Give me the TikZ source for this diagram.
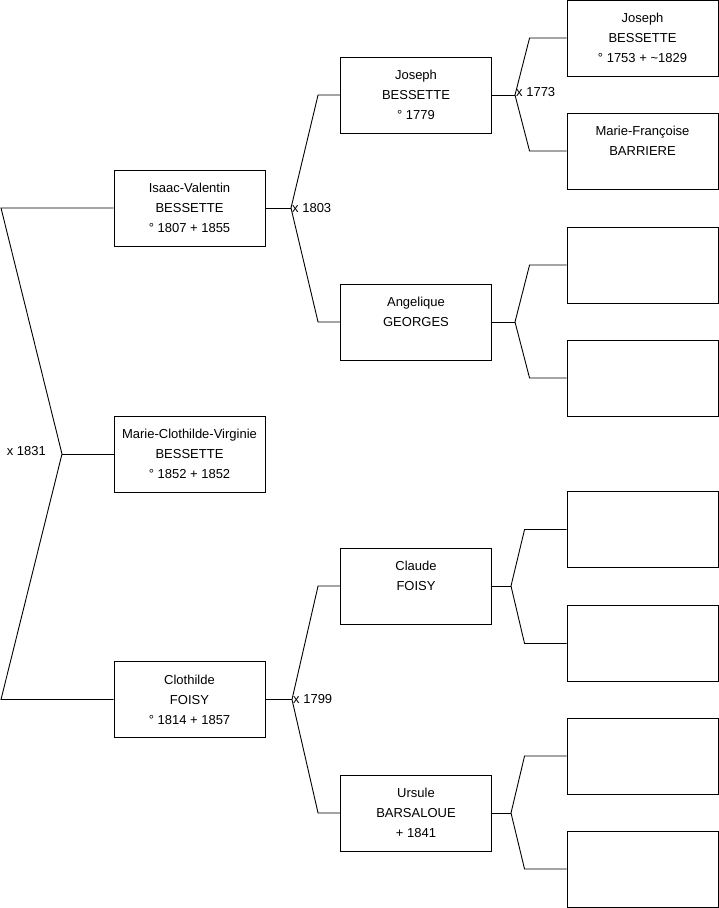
\documentclass[tikz,border=0pt]{standalone}
\usepackage{fontspec}
\setmainfont{Liberation Sans}
\usepackage{tikz}

\begin{document}
\begin{tikzpicture}[
		x=1pt, y=-1pt,
		font=\fontsize{13}{20}\selectfont,
		box/.style={draw, line width=0.9pt, align=center, inner sep=0pt, minimum width=151pt, minimum height=76pt},
		link/.style={line width=0.9pt},
		year/.style={inner sep=1pt}
		]
		\useasboundingbox (0,0) rectangle (719,908);
		
		% Nodes (couple and child)
		\node[box] (isaac) at (189.5,208) {Isaac-Valentin\\BESSETTE\\° 1807 + 1855};
		\node[box] (marieclo) at (189.5,454) {Marie-Clothilde-Virginie\\BESSETTE\\° 1852 + 1852};
		\node[box] (clothilde) at (189.5,699.5) {Clothilde\\FOISY\\° 1814 + 1857};
		
		% Nodes (parents)
		\node[box] (joseph) at (416,95) {Joseph\\BESSETTE\\° 1779};
		\node[box] (angelique) at (416,322) {Angelique\\GEORGES\\\mbox{}};
		\node[box] (claude) at (416,586) {Claude\\FOISY\\\mbox{}};
		\node[box] (ursule) at (416,813) {Ursule\\BARSALOUE\\+ 1841};
		
		% Nodes (grandparents)
		\node[box] (josephsr) at (642.5,38) {Joseph\\BESSETTE\\° 1753 + \textasciitilde1829};
		\node[box] (mariefr) at (642.5,151) {Marie-Françoise\\BARRIERE\\\mbox{}};
		\node[box] (angfather) at (642.5,265) {};
		\node[box] (angmother) at (642.5,378) {};
		\node[box] (claudefather) at (642.5,529.5) {};
		\node[box] (claudemother) at (642.5,643.5) {};
		\node[box] (ursfather) at (642.5,756) {};
		\node[box] (ursmother) at (642.5,869) {};
		
		% Junctions
		\coordinate (j0) at (62,454);
		\coordinate (j0top) at (1,208);
		\coordinate (j0bot) at (1,699.5);
		\coordinate (j1) at (291,208);
		\coordinate (j2) at (292,699.5);
		\coordinate (j3) at (515,95);
		\coordinate (j4) at (515,322);
		\coordinate (j5) at (511,586);
		\coordinate (j6) at (511,813);
		
		% Lines (child to couple)
		\draw[link] (isaac.west) -- (j0top) -- (j0) -- (j0bot) -- (clothilde.west);
		\draw[link] (j0) -- (marieclo.west);
		\node[year, anchor=east] (m1831) at ([xshift=-15pt,yshift=3pt]j0) {x 1831};
		
		% Lines (to parents)
		\draw[link] (isaac.east) -- (j1);
		\draw[link] (j1) -- ([xshift=-22pt]joseph.west) -- (joseph.west);
		\draw[link] (j1) -- ([xshift=-22pt]angelique.west) -- (angelique.west);
		\node[year, anchor=west] (m1803) at (j1) {x 1803};
		
		\draw[link] (clothilde.east) -- (j2);
		\draw[link] (j2) -- ([xshift=-22pt]claude.west) -- (claude.west);
		\draw[link] (j2) -- ([xshift=-22pt]ursule.west) -- (ursule.west);
		\node[year, anchor=west] (m1799) at (j2) {x 1799};
		
		% Lines (to grandparents)
		\draw[link] (joseph.east) -- (j3);
		\draw[link] (j3) -- ([xshift=-37pt]josephsr.west) -- (josephsr.west);
		\draw[link] (j3) -- ([xshift=-37pt]mariefr.west) -- (mariefr.west);
		\node[year, anchor=west] (m1773) at ([yshift=3pt]j3) {x 1773};
		
		\draw[link] (angelique.east) -- (j4);
		\draw[link] (j4) -- ([xshift=-37pt]angfather.west) -- (angfather.west);
		\draw[link] (j4) -- ([xshift=-37pt]angmother.west) -- (angmother.west);
		
		\draw[link] (claude.east) -- (j5);
		\draw[link] (j5) -- ([xshift=-42pt]claudefather.west) -- (claudefather.west);
		\draw[link] (j5) -- ([xshift=-42pt]claudemother.west) -- (claudemother.west);
		
		\draw[link] (ursule.east) -- (j6);
		\draw[link] (j6) -- ([xshift=-42pt]ursfather.west) -- (ursfather.west);
		\draw[link] (j6) -- ([xshift=-42pt]ursmother.west) -- (ursmother.west);
		
	\end{tikzpicture}
\end{document}
